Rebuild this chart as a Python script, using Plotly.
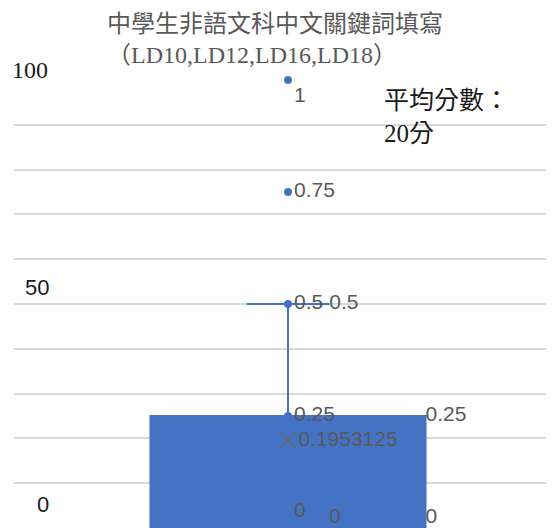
import plotly.graph_objects as go

# ---- data ----
title_line1 = "中學生非語文科中文關鍵詞填寫"
title_line2 = "（LD10,LD12,LD16,LD18）"
note_text = "平均分數：<br>20分"

point_values = [1, 0.75, 0.5, 0.25, 0]
q1 = 0
median = 0
q3 = 0.25
lower_fence = 0
upper_fence = 0.5
mean_value = 0.1953125

axis_label_values = [1, 0.5, 0]
axis_label_texts = ["100", "50", "0"]

# ---- style / layout ----
PAGE_OFF = 8                     # default body margin of the html page
SW, SH = 554, 528                # screen size
W, H = SW - PAGE_OFF, SH - PAGE_OFF
PLOT_L, PLOT_T, PLOT_R, PLOT_B = 14, 80, 554, 528   # plot area in screen px
ML = PLOT_L - PAGE_OFF
MT = PLOT_T - PAGE_OFF
MR = SW - PLOT_R
MB = SH - PLOT_B
PW = PLOT_R - PLOT_L
PH = PLOT_B - PLOT_T
BLUE = "#4472C4"
GRAY = "#595959"
CJK = "Liberation Serif, Noto Sans CJK TC"
LABEL_FONT = dict(family="Liberation Sans, Arial", size=21, color=GRAY)

x_min, x_max = -274 / 270, 2 - 274 / 270
box_w = 275 / 270
whisker_frac = 0.3
box_half = box_w / 2
cap_half = box_w * whisker_frac / 2


def px_x(px):
    return (px - PLOT_L) / PW


def px_y(py):
    return (PLOT_B - py) / PH


fig = go.Figure()

fig.add_trace(go.Box(
    x=[0], q1=[q1], median=[median], q3=[q3],
    lowerfence=[lower_fence], upperfence=[upper_fence],
    width=box_w, whiskerwidth=whisker_frac,
    fillcolor=BLUE, line=dict(color=BLUE, width=2),
    boxpoints=False, hoverinfo="skip", showlegend=False,
))

# inner points with labels
positions = ["bottom right", "middle right", "middle right", "middle right", "top right"]
fig.add_trace(go.Scatter(
    x=[0] * len(point_values), y=point_values,
    mode="markers+text",
    marker=dict(color=BLUE, size=8),
    text=[str(v) for v in point_values],
    textposition=positions,
    textfont=LABEL_FONT,
    cliponaxis=False, showlegend=False, hoverinfo="skip",
))

# whisker cap labels
fig.add_trace(go.Scatter(
    x=[cap_half, cap_half], y=[upper_fence, lower_fence],
    mode="text", text=[str(upper_fence), str(lower_fence)],
    textposition=["middle right", "top right"],
    textfont=LABEL_FONT, cliponaxis=False, showlegend=False, hoverinfo="skip",
))

# box edge labels
fig.add_trace(go.Scatter(
    x=[box_half, box_half], y=[q3, q1],
    mode="text", text=[str(q3), str(q1)],
    textposition=["middle right", "top right"],
    textfont=LABEL_FONT, cliponaxis=False, showlegend=False, hoverinfo="skip",
))

# mean marker
fig.add_trace(go.Scatter(
    x=[0], y=[mean_value], mode="markers+text",
    marker=dict(symbol="x-thin", size=15, line=dict(color="#6a6a6a", width=1.6)),
    text=[str(mean_value)], textposition="middle right",
    textfont=LABEL_FONT, cliponaxis=False, showlegend=False, hoverinfo="skip",
))

annotations = []
# axis-like labels
label_specs = [
    (30, 70, "Liberation Serif", 24),
    (37, 287, "Liberation Sans", 22),
    (43, 504, "Liberation Sans", 22),
]
for val, txt, (cx, cy, fam, sz) in zip(axis_label_values, axis_label_texts, label_specs):
    annotations.append(dict(
        x=px_x(cx), xref="paper", y=val, yref="y",
        yshift=(PLOT_B - val * PH) - cy,
        text=txt, showarrow=False, xanchor="center", yanchor="middle",
        font=dict(family=fam, size=sz, color="#1a1a1a"),
    ))

annotations.append(dict(
    x=px_x(105), xref="paper", y=px_y(24), yref="paper",
    text=title_line1, showarrow=False, xanchor="left", yanchor="middle",
    font=dict(family=CJK, size=24, color=GRAY),
))
annotations.append(dict(
    x=px_x(105), xref="paper", y=px_y(55), yref="paper",
    text=title_line2, showarrow=False, xanchor="left", yanchor="middle",
    font=dict(family=CJK, size=24, color=GRAY),
))
annotations.append(dict(
    x=px_x(382), xref="paper", y=px_y(116.5), yref="paper",
    text=note_text, showarrow=False, xanchor="left", yanchor="middle", align="left",
    font=dict(family=CJK, size=25, color="#1a1a1a"),
))

fig.update_layout(
    width=W, height=H,
    margin=dict(l=ML, r=MR, t=MT, b=MB),
    paper_bgcolor="white", plot_bgcolor="white",
    showlegend=False,
    annotations=annotations,
    xaxis=dict(range=[x_min, x_max], visible=False, fixedrange=True),
    yaxis=dict(range=[0, 1], dtick=0.1, tick0=0, showgrid=True,
               gridcolor="#d9d9d9", gridwidth=1.5, zeroline=False,
               showticklabels=False, ticks="", showline=False, fixedrange=True),
)

fig.write_html("out.html")
